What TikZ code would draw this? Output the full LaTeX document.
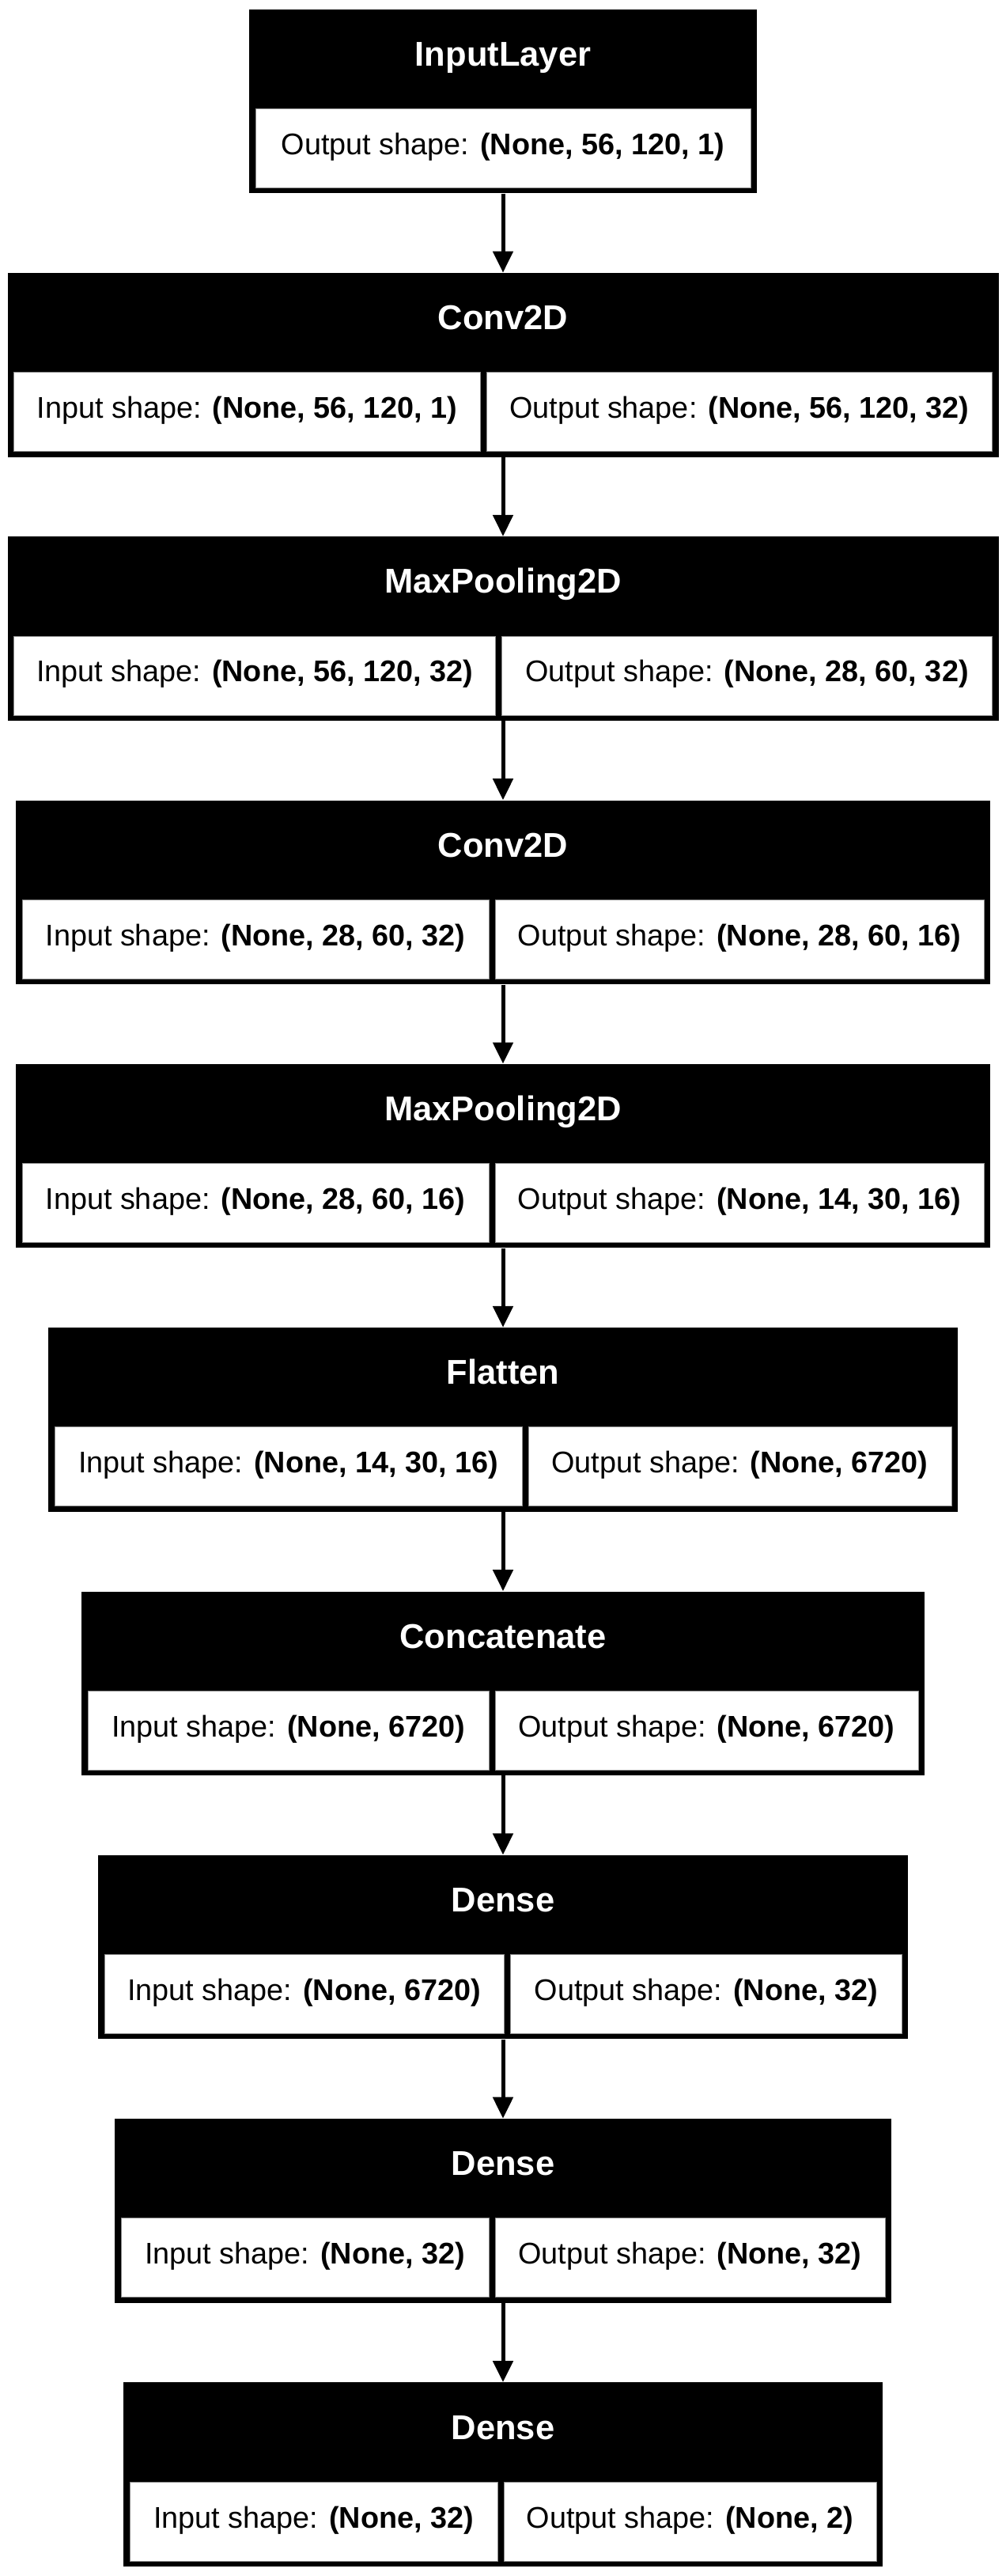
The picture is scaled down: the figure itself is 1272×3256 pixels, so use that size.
\documentclass[tikz,border=0pt]{standalone}
\usepackage{fontspec}
\setmainfont{Liberation Sans}
\usetikzlibrary{arrows.meta}
\tikzset{
 layerbox/.style={fill=black, draw=none, inner sep=0pt, minimum height=116.25pt, anchor=north},
 cellbox/.style={fill=white, draw=black!45, line width=0.4pt},
 headtext/.style={text=white, font=\fontsize{21.75}{26}\selectfont\bfseries, anchor=base, inner sep=0pt},
 celltext/.style={text=black, font=\fontsize{18.9}{22}\selectfont, anchor=base, inner sep=0pt},
 flow/.style={draw=black, line width=2.5pt, -{Triangle[width=12.5pt,length=13.5pt]}},
}
% #1 name, #2 top, #3 half width, #4 divider x, #5 title, #6 input, #7 output
\newcommand\mylayer[7]{%
 \node[layerbox, minimum width=#3pt] (#1) at (636,#2) {};
 \path[cellbox] ({636-#3+8},{#2+126}) rectangle ({#4-4},{#2+226});
 \path[cellbox] ({#4+4},{#2+126}) rectangle ({636+#3-8},{#2+226});
 \node[headtext] (#1-title) at (636,{#2+72}) {#5};
 \node[celltext] (#1-in) at ({(636-#3+8+#4-4)/2},{#2+184}) {Input shape: \textbf{#6}};
 \node[celltext] (#1-out) at ({(#4+4+636+#3-8)/2},{#2+184}) {Output shape: \textbf{#7}};
}
\begin{document}
\begin{tikzpicture}[x=0.5pt, y=-0.5pt]
\fill[white] (0,0) rectangle (1272,3256);
\useasboundingbox (0,0) rectangle (1272,3256);
% Input layer
\node[layerbox, minimum width=321pt] (L1) at (636,11.3) {};
\path[cellbox] ({636-321+8},{11.3+126}) rectangle ({636+321-8},{11.3+226});
\node[headtext] (L1-title) at (636,{11.3+72}) {InputLayer};
\node[celltext] (L1-out) at (636,{11.3+184}) {Output shape: \textbf{(None, 56, 120, 1)}};
\mylayer{L2}{344.6}{626.5}{611}{Conv2D}{(None, 56, 120, 1)}{(None, 56, 120, 32)}
\mylayer{L3}{677.9}{626.5}{630.5}{MaxPooling2D}{(None, 56, 120, 32)}{(None, 28, 60, 32)}
\mylayer{L4}{1011.2}{616}{622}{Conv2D}{(None, 28, 60, 32)}{(None, 28, 60, 16)}
\mylayer{L5}{1344.5}{616}{622}{MaxPooling2D}{(None, 28, 60, 16)}{(None, 14, 30, 16)}
\mylayer{L6}{1677.8}{575}{664}{Flatten}{(None, 14, 30, 16)}{(None, 6720)}
\mylayer{L7}{2011.1}{533}{622}{Concatenate}{(None, 6720)}{(None, 6720)}
\mylayer{L8}{2344.4}{512}{641.5}{Dense}{(None, 6720)}{(None, 32)}
\mylayer{L9}{2677.7}{491}{622}{Dense}{(None, 32)}{(None, 32)}
\mylayer{L10}{3011}{480}{633}{Dense}{(None, 32)}{(None, 2)}
\draw[flow] (L1.south) -- (L2.north);
\draw[flow] (L2.south) -- (L3.north);
\draw[flow] (L3.south) -- (L4.north);
\draw[flow] (L4.south) -- (L5.north);
\draw[flow] (L5.south) -- (L6.north);
\draw[flow] (L6.south) -- (L7.north);
\draw[flow] (L7.south) -- (L8.north);
\draw[flow] (L8.south) -- (L9.north);
\draw[flow] (L9.south) -- (L10.north);
\end{tikzpicture}
\end{document}
